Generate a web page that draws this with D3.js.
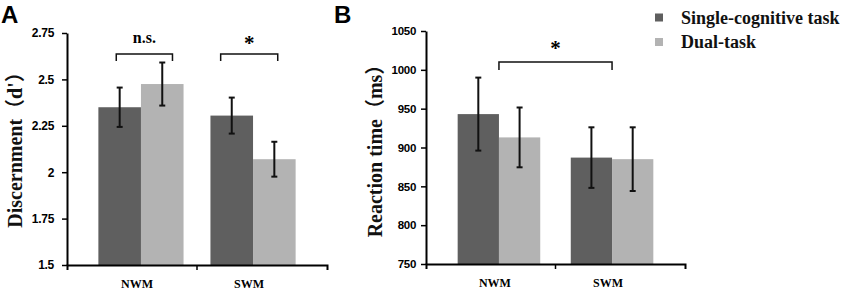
<!DOCTYPE html>
<html>
<head>
<meta charset="utf-8">
<script src="https://cdn.jsdelivr.net/npm/d3@7"></script>
<style>
  body { margin: 0; background: #fff; }
  svg { display: block; }
  .tick line, .domain { stroke: #000; }
</style>
</head>
<body>
<div id="chart"></div>
<script>
// data
var groups = ["NWM", "SWM"];
var series = ["Single-cognitive task", "Dual-task"];

// Discernment (d'), per group: [single, dual]
var discMean = [[2.35, 2.475], [2.305, 2.07]];
var discErr = [[0.106, 0.116], [0.097, 0.094]];
var discTicks = [1.5, 1.75, 2, 2.25, 2.5, 2.75];
var discTickLabels = ["1.5", "1.75", "2", "2.25", "2.5", "2.75"];
var discSig = [
    { from: ["NWM", 0.21], to: ["NWM", 0.87], level: 2.637, label: "n.s." },
    { from: ["SWM", 0.12], to: ["SWM", 0.79], level: 2.637, label: "*" }
];

// Reaction time (ms)
var rtMean = [[943, 913], [887, 885]];
var rtErr = [[47, 38.5], [39, 41]];
var rtTicks = [750, 800, 850, 900, 950, 1000, 1050];
var rtTickLabels = ["750", "800", "850", "900", "950", "1000", "1050"];
var rtSig = [
    { from: ["NWM", 0.5], to: ["SWM", 0.5], level: 1010, label: "*" }
];

var colors = ["#5f5f5f", "#b3b3b3"];
var serif = "'Liberation Serif', 'Times New Roman', 'Noto Sans CJK SC', serif";
var sans = "'Liberation Sans', Arial, sans-serif";

var svg = d3.select("#chart").append("svg")
    .attr("width", 850)
    .attr("height", 297)
    .style("background", "#fff");

function drawPanel(cfg) {
    var g = svg.append("g");

    var y = d3.scaleLinear()
        .domain([cfg.ticks[0], cfg.ticks[cfg.ticks.length - 1]])
        .range([cfg.bottom, cfg.top]);

    var x = d3.scaleBand()
        .domain(groups)
        .range([cfg.left, cfg.right])
        .paddingInner(cfg.padIn)
        .paddingOuter(cfg.padOut);

    var xs = d3.scaleBand()
        .domain(series)
        .range([0, x.bandwidth()]);

    //bars
    groups.forEach(function (grp, i) {
        series.forEach(function (s, j) {
            var m = cfg.means[i][j], e = cfg.errs[i][j];
            var cx = x(grp) + xs(s) + xs.bandwidth() / 2;
            g.append("rect")
                .attr("x", x(grp) + xs(s))
                .attr("y", y(m))
                .attr("width", xs.bandwidth())
                .attr("height", y(cfg.ticks[0]) - y(m))
                .attr("fill", colors[j]);
            // error bar
            g.append("line")
                .attr("x1", cx).attr("x2", cx)
                .attr("y1", y(m + e)).attr("y2", y(m - e))
                .attr("stroke", "#111").attr("stroke-width", 2);
            [m + e, m - e].forEach(function (v) {
                g.append("line")
                    .attr("x1", cx - 3).attr("x2", cx + 3)
                    .attr("y1", y(v)).attr("y2", y(v))
                    .attr("stroke", "#111").attr("stroke-width", 2);
            });
        });
    });

    //y-axis
    var yAxis = g.append("g")
        .attr("transform", "translate(" + cfg.left + ",0)")
        .call(d3.axisLeft(y)
            .tickValues(cfg.ticks)
            .tickFormat(function (d, i) { return cfg.tickLabels[i]; })
            .tickSize(5)
            .tickSizeOuter(0)
            .tickPadding(cfg.tickPad));
    yAxis.select(".domain").attr("stroke-width", 2);
    yAxis.selectAll(".tick line").attr("stroke-width", 1.5);
    yAxis.selectAll("text")
        .attr("fill", "#000")
        .style("font-family", sans)
        .style("font-weight", "bold")
        .style("font-size", cfg.tickFont + "px")
        .style("letter-spacing", "-0.3px");

    //x-axis
    var xAxis = g.append("g")
        .attr("transform", "translate(0," + cfg.bottom + ")")
        .call(d3.axisBottom(x).tickSize(0).tickSizeOuter(5).tickPadding(0));
    xAxis.select(".domain").attr("stroke-width", 2);
    xAxis.selectAll("text")
        .attr("fill", "#000")
        .attr("y", 23)
        .attr("dy", 0)
        .attr("dx", -4)
        .style("font-family", serif)
        .style("font-weight", "bold")
        .style("font-size", "12px");
    var mid = x(groups[1]) - x.step() * x.paddingInner() / 2;
    xAxis.append("line")
        .attr("x1", mid).attr("x2", mid)
        .attr("y1", 0).attr("y2", 5)
        .attr("stroke", "#000").attr("stroke-width", 1.5);

    //significance brackets
    cfg.sig.forEach(function (b) {
        var xa = x(b.from[0]) + x.bandwidth() * b.from[1];
        var xb = x(b.to[0]) + x.bandwidth() * b.to[1];
        var yb = y(b.level);
        g.append("path")
            .attr("d", "M" + xa + "," + (yb + cfg.drop) + "V" + yb + "H" + xb + "V" + (yb + cfg.drop))
            .attr("fill", "none")
            .attr("stroke", "#111")
            .attr("stroke-width", 1.5);
        var star = b.label === "*";
        g.append("text")
            .attr("x", (xa + xb) / 2)
            .attr("y", yb - (star ? cfg.starOff : 11))
            .attr("text-anchor", "middle")
            .style("font-family", serif)
            .style("font-weight", "bold")
            .style("font-size", star ? "21px" : "16px")
            .text(b.label);
    });

    //titles
    g.append("text")
        .attr("transform", "translate(" + cfg.titleX + "," + cfg.titleY + ") rotate(-90)")
        .attr("text-anchor", "middle")
        .attr("fill", "#111")
        .style("font-family", serif)
        .style("font-weight", "bold")
        .style("font-size", "20px")
        .text(cfg.title);

    g.append("text")
        .attr("x", cfg.letterX)
        .attr("y", 23)
        .style("font-family", sans)
        .style("font-weight", "bold")
        .style("font-size", "24px")
        .text(cfg.letter);
}

drawPanel({
    left: 67, right: 327, top: 33, bottom: 265,
    padIn: 0.24, padOut: 0.28,
    ticks: discTicks, tickLabels: discTickLabels,
    tickPad: 8, tickFont: 12,
    means: discMean, errs: discErr, sig: discSig,
    drop: 7, starOff: 4,
    title: "Discernment（d'）", titleX: 22, titleY: 145,
    letter: "A", letterX: 1
});

drawPanel({
    left: 426, right: 685, top: 31, bottom: 264,
    padIn: 0.27, padOut: 0.28,
    ticks: rtTicks, tickLabels: rtTickLabels,
    tickPad: 5, tickFont: 11.5,
    means: rtMean, errs: rtErr, sig: rtSig,
    drop: 8, starOff: 7,
    title: "Reaction time（ms）", titleX: 382, titleY: 146,
    letter: "B", letterX: 334
});

//legend
var legend = svg.append("g");
series.forEach(function (s, i) {
    var cy = 17.5 + i * 24.5;
    legend.append("rect")
        .attr("x", 655).attr("y", cy - 4)
        .attr("width", 8).attr("height", 8)
        .attr("fill", colors[i]);
    legend.append("text")
        .attr("x", 681).attr("y", cy + 6)
        .style("font-family", serif)
        .style("font-weight", "bold")
        .style("font-size", "18px")
        .attr("fill", "#111")
        .text(s);
});
</script>
</body>
</html>
